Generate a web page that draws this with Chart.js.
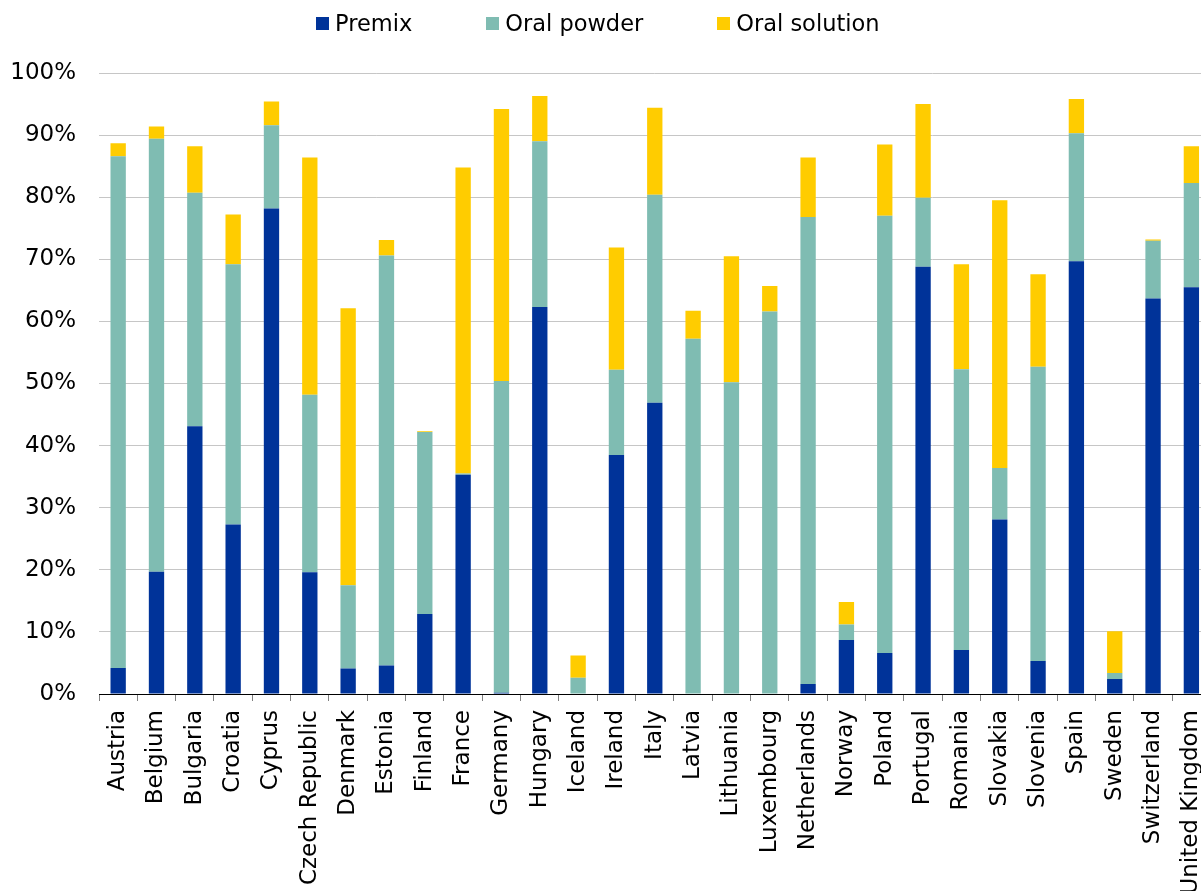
<!DOCTYPE html>
<html>
<head>
<meta charset="utf-8">
<script src="https://cdn.jsdelivr.net/npm/chart.js@4/dist/chart.umd.min.js"></script>
<style>
  html, body { margin: 0; padding: 0; background: #fff; overflow: hidden; }
  #wrap { position: relative; width: 1228px; height: 891px; }
  #legend {
    position: absolute; top: 10px; left: 316px;
    display: flex; gap: 74px;
    font: 22.5px "DejaVu Sans", Verdana, sans-serif; color: #000;
  }
  #legend .item { display: flex; align-items: center; }
  #legend .box { width: 13px; height: 13px; margin-right: 6px; }
</style>
</head>
<body>
<div id="wrap">
  <canvas id="productsChart" width="1228" height="891"></canvas>
  <div id="legend"></div>
</div>
<script>
const countries = ['Austria', 'Belgium', 'Bulgaria', 'Croatia', 'Cyprus', 'Czech Republic', 'Denmark',
  'Estonia', 'Finland', 'France', 'Germany', 'Hungary', 'Iceland', 'Ireland', 'Italy', 'Latvia',
  'Lithuania', 'Luxembourg', 'Netherlands', 'Norway', 'Poland', 'Portugal', 'Romania', 'Slovakia',
  'Slovenia', 'Spain', 'Sweden', 'Switzerland', 'United Kingdom'];

// shares in %
const premix = [4.2, 19.7, 43.1, 27.3, 78.2, 19.6, 4.1, 4.6, 12.9, 35.3, 0.2, 62.3, 0.1, 38.5, 46.9,
  0, 0, 0, 1.6, 8.7, 6.6, 68.8, 7.1, 28.1, 5.3, 69.7, 2.4, 63.7, 65.5];
const oralPowder = [82.4, 69.7, 37.6, 41.9, 13.4, 28.6, 13.4, 66.0, 29.3, 0.2, 50.2, 26.7, 2.5, 13.7, 33.5,
  57.2, 50.2, 61.6, 75.2, 2.5, 70.4, 11.1, 45.2, 8.3, 47.4, 20.6, 1.0, 9.3, 16.8];
const oralSolution = [2.1, 2.0, 7.5, 8.0, 3.8, 38.2, 44.6, 2.5, 0.1, 49.3, 43.8, 7.3, 3.6, 19.7, 14.0,
  4.5, 20.3, 4.1, 9.6, 3.6, 11.5, 15.1, 16.9, 43.1, 14.9, 5.5, 6.7, 0.2, 5.9];

const yTicks = [0, 10, 20, 30, 40, 50, 60, 70, 80, 90, 100];

const fontFamily = '"DejaVu Sans", Verdana, sans-serif';

const datasets = [
  { label: 'Premix', data: premix, backgroundColor: '#003399' },
  { label: 'Oral powder', data: oralPowder, backgroundColor: '#7fbcb2' },
  { label: 'Oral solution', data: oralSolution, backgroundColor: '#ffcc00' }
];

const legendEl = document.getElementById('legend');
datasets.forEach(ds => {
  const item = document.createElement('div');
  item.className = 'item';
  item.innerHTML = '<span class="box" style="background:' + ds.backgroundColor + '"></span>' + ds.label;
  legendEl.appendChild(item);
});

new Chart(document.getElementById('productsChart').getContext('2d'), {
  type: 'bar',
  data: {
    labels: countries,
    datasets: datasets.map(ds => Object.assign({}, ds, {
      categoryPercentage: 1,
      barPercentage: 0.4,
      borderWidth: 0
    }))
  },
  options: {
    responsive: false,
    animation: false,
    layout: { padding: { top: 73, right: 1, left: 0, bottom: 0 } },
    plugins: {
      legend: { display: false },
      tooltip: { enabled: false }
    },
    scales: {
      x: {
        stacked: true,
        afterFit: scale => { scale.height = 197; },
        border: { color: '#000', width: 1 },
        grid: {
          offset: true,
          drawOnChartArea: false,
          drawTicks: true,
          tickLength: 7,
          color: '#808080'
        },
        ticks: {
          autoSkip: false,
          maxRotation: 90,
          minRotation: 90,
          padding: 9,
          color: '#000',
          font: { family: fontFamily, size: 23 }
        }
      },
      y: {
        stacked: true,
        min: 0,
        max: 100,
        afterFit: scale => { scale.width = 99; },
        afterBuildTicks: scale => { scale.ticks = yTicks.map(v => ({ value: v })); },
        border: { display: false },
        grid: { color: '#c6c6c6', drawTicks: false },
        ticks: {
          padding: 23,
          color: '#000',
          font: { family: fontFamily, size: 23 },
          callback: v => v + '%'
        }
      }
    }
  }
});
</script>
</body>
</html>
